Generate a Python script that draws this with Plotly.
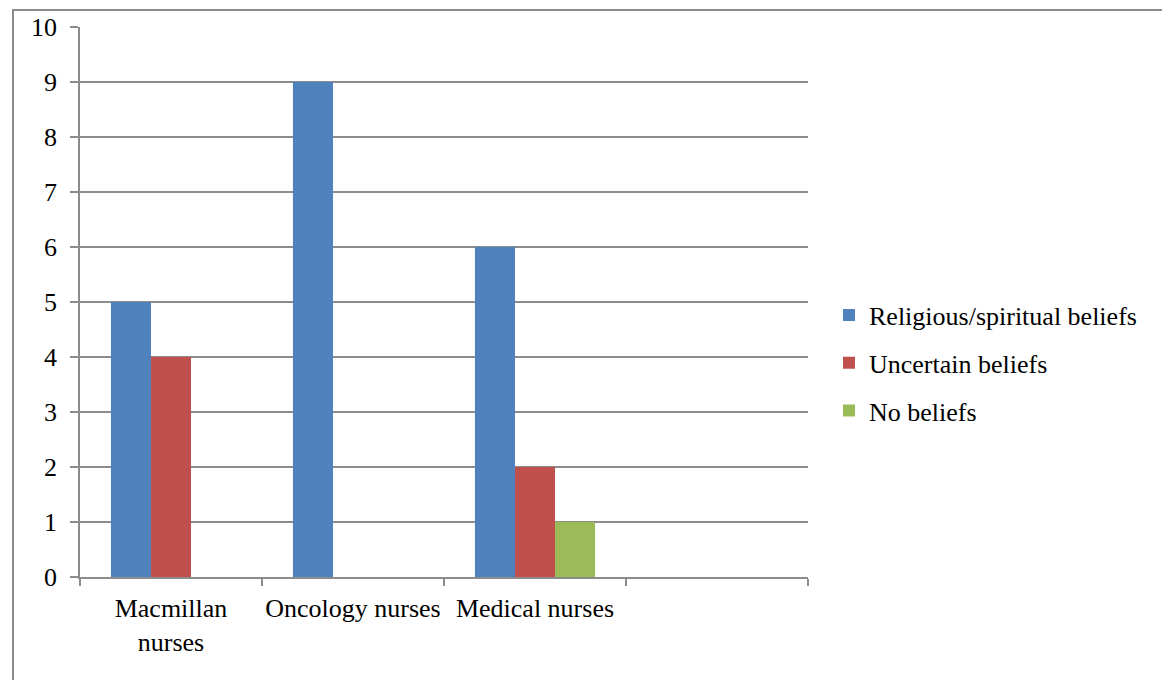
import plotly.graph_objects as go

categories = ["Macmillan<br>nurses", "Oncology nurses", "Medical nurses", " "]
series_names = ["Religious/spiritual beliefs", "Uncertain beliefs", "No beliefs"]
religious = [5, 9, 6, None]
uncertain = [4, None, 2, None]
no_beliefs = [None, None, 1, None]
colors = ["#4F81BD", "#C0504D", "#9BBB59"]
y_ticks = list(range(0, 11))

fig = go.Figure()
for name, vals, col in zip(series_names, [religious, uncertain, no_beliefs], colors):
    fig.add_trace(go.Bar(x=categories, y=vals, name=name, marker_color=col,
                         marker_line_width=0, legendgroup=name))

# page body has an 8px margin; compensate so the plot lands where the reference has it
OFF = 8
W, H = 1170 - OFF, 680 - OFF
l, r, t, b = 80 - OFF, 1170 - 808, 27 - OFF, 680 - 577
pw, ph = W - l - r, H - t - b

def px_x(x):
    return (x - OFF - l) / pw

def px_y(y):
    return (H - b - (y - OFF)) / ph

fig.update_layout(
    width=W, height=H,
    margin=dict(l=l, r=r, t=t, b=b, autoexpand=False),
    paper_bgcolor="white", plot_bgcolor="white",
    font=dict(family="Liberation Serif, Times New Roman, serif", size=26, color="black"),
    barmode="group", bargap=0.34, bargroupgap=0,
    showlegend=True,
    legend=dict(x=px_x(829), y=px_y(363), xanchor="left", yanchor="middle",
                traceorder="grouped", tracegroupgap=11,
                font=dict(size=26), itemwidth=30, bgcolor="rgba(0,0,0,0)"),
    xaxis=dict(type="category", tickson="boundaries", ticks="outside", ticklen=7,
               tickcolor="#8c8c8c", tickwidth=1.5, showline=True, linecolor="#8c8c8c",
               linewidth=1.5, showgrid=False, range=[-0.5, 3.5], tickangle=0,
               ticklabelstandoff=7, fixedrange=True),
    yaxis=dict(range=[0, 10], tickvals=y_ticks, ticks="outside", ticklen=8,
               tickcolor="#8c8c8c", tickwidth=1.5, showline=True, linecolor="#8c8c8c",
               linewidth=1.5, gridcolor="#8c8c8c", gridwidth=1.5, zeroline=False,
               ticklabelstandoff=8),
    shapes=[dict(type="rect", xref="paper", yref="paper",
                 x0=px_x(13), x1=px_x(1185), y0=px_y(695), y1=px_y(10),
                 line=dict(color="#8c8c8c", width=2), fillcolor="rgba(0,0,0,0)",
                 layer="below")],
)

fig.write_html("out.html")
